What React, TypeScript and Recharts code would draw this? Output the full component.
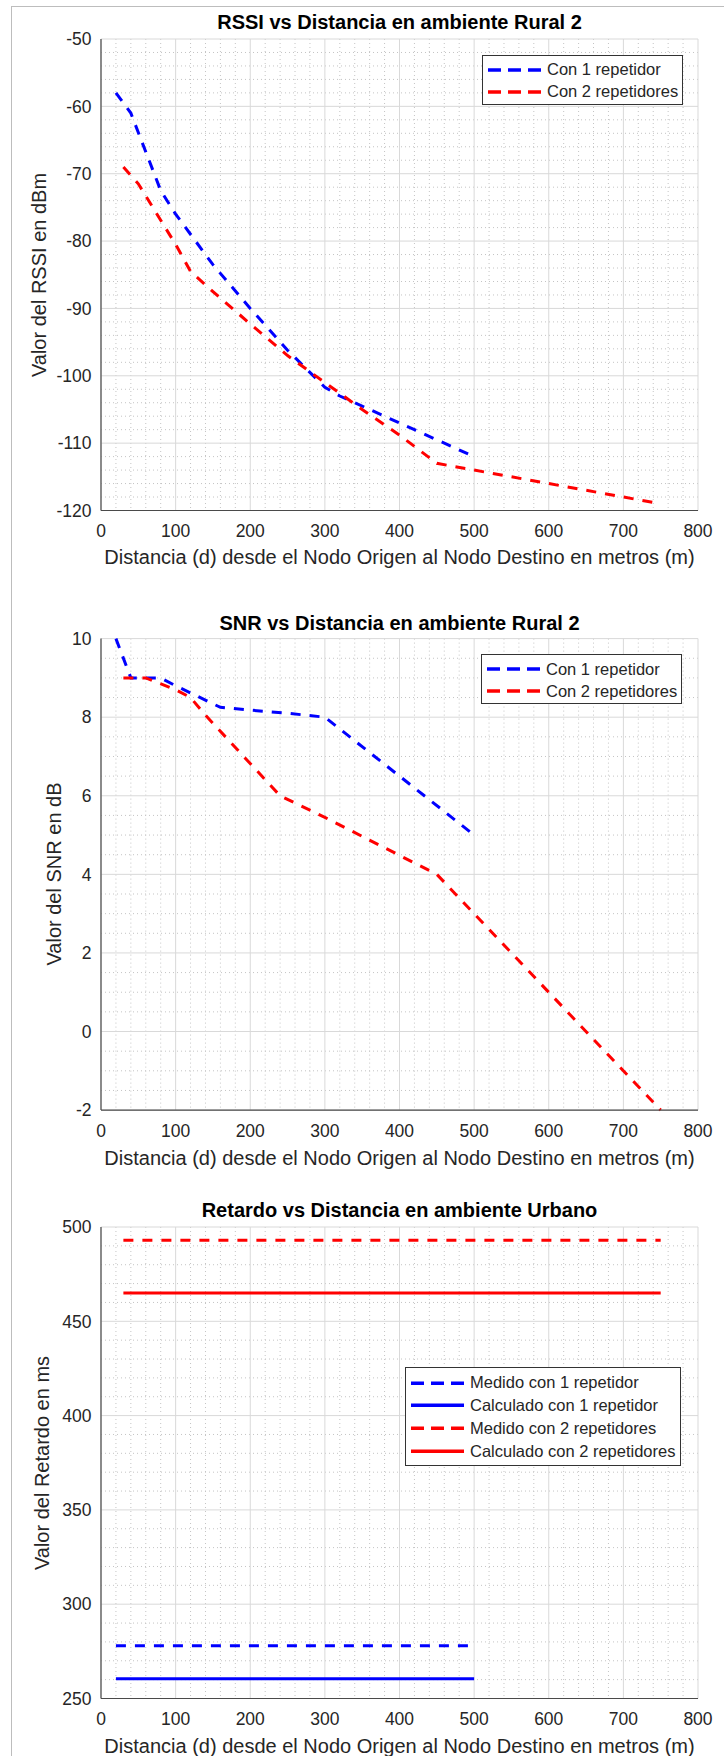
import React from "react";
import { LineChart, Line, XAxis, YAxis, CartesianGrid } from "recharts";

// distances in metres
const xTicks = [0, 100, 200, 300, 400, 500, 600, 700, 800];
const xMinor = [20, 40, 60, 80, 120, 140, 160, 180, 220, 240, 260, 280, 320, 340, 360, 380, 420, 440, 460, 480, 520, 540, 560, 580, 620, 640, 660, 680, 720, 740, 760, 780];

// RSSI (dBm)
const rssiTicks = [-120, -110, -100, -90, -80, -70, -60, -50];
const rssiMinor = [-118, -116, -114, -112, -108, -106, -104, -102, -98, -96, -94, -92, -88, -86, -84, -82, -78, -76, -74, -72, -68, -66, -64, -62, -58, -56, -54, -52];
const rssi1Dist = [20, 40, 80, 100, 150, 200, 250, 300, 320, 400, 500];
const rssi1Val = [-58, -61, -72.5, -76, -83.5, -90, -96.2, -101.7, -103, -107, -112];
const rssi2Dist = [30, 50, 100, 120, 150, 200, 250, 300, 350, 400, 450, 500, 600, 750];
const rssi2Val = [-69, -71.5, -80.5, -84.5, -87.5, -92.3, -97, -101, -105, -108.8, -113, -114, -116, -119];

// SNR (dB)
const snrTicks = [-2, 0, 2, 4, 6, 8, 10];
const snrMinor = [-1.5, -1, -0.5, 0.5, 1, 1.5, 2.5, 3, 3.5, 4.5, 5, 5.5, 6.5, 7, 7.5, 8.5, 9, 9.5];
const snr1Dist = [20, 40, 80, 100, 160, 200, 250, 300, 400, 500];
const snr1Val = [10, 9, 9, 8.8, 8.25, 8.18, 8.1, 8, 6.5, 5];
const snr2Dist = [30, 60, 100, 120, 140, 240, 300, 450, 500, 600, 750];
const snr2Val = [9, 9, 8.7, 8.5, 8.05, 6, 5.45, 4, 3, 1, -2];

// Retardo (ms)
const delayTicks = [250, 300, 350, 400, 450, 500];
const delayMinor = [260, 270, 280, 290, 310, 320, 330, 340, 360, 370, 380, 390, 410, 420, 430, 440, 460, 470, 480, 490];
const delay1Dist = [20, 500];
const medido1Val = [278, 278];
const calc1Val = [260.5, 260.5];
const delay2Dist = [30, 750];
const medido2Val = [493, 493];
const calc2Val = [465, 465];

const pts = (ds: number[], vs: number[]) => ds.map((d, i) => ({ d, v: vs[i] }));

const W = 724;
const PLOT_LEFT = 101;
const PLOT_RIGHT = 698;
const PLOT_H = 471.5;
const AXIS = "#4a4a4a";
const TXT = "#262626";
const FONT = "'Liberation Sans', Arial, Helvetica, sans-serif";
const BLUE = "#0000ff";
const RED = "#ff0000";
const DASH = "10 9";

type Series = { data: { d: number; v: number }[]; color: string; dashed: boolean; name: string };

function LegendBox({ items, left, top, width, rowH, padTop }: any) {
  return (
    <div
      style={{
        position: "absolute",
        left,
        top,
        width,
        height: padTop * 2 + rowH * items.length - 4,
        background: "#fff",
        border: "1px solid #333",
        boxSizing: "border-box",
        fontFamily: FONT,
        fontSize: 16.5,
        color: TXT,
      }}
    >
      {items.map((s: Series, i: number) => (
        <div
          key={s.name}
          style={{
            position: "absolute",
            left: 0,
            top: padTop + i * rowH - rowH / 2 + 9,
            height: rowH,
            display: "flex",
            alignItems: "center",
            whiteSpace: "nowrap",
          }}
        >
          <svg width={64} height={rowH} style={{ flex: "none" }}>
            <line
              x1={5}
              x2={58}
              y1={rowH / 2}
              y2={rowH / 2}
              stroke={s.color}
              strokeWidth={3.5}
              strokeDasharray={s.dashed ? "13 7" : undefined}
            />
          </svg>
          <span>{s.name}</span>
        </div>
      ))}
    </div>
  );
}

function Panel(props: any) {
  const { top, height, plotTop, yDomain, yTicks, yMinor, series, title, titleY, xLabelY, yLabel, yLabelX, legend } = props;
  const xh = height - plotTop - PLOT_H;
  const plotMid = (PLOT_LEFT + PLOT_RIGHT) / 2;
  return (
    <div style={{ position: "absolute", left: 0, top, width: W, height }}>
      <LineChart
        width={W}
        height={height}
        margin={{ top: plotTop, right: W - PLOT_RIGHT, bottom: 0, left: 0 }}
      >
        <CartesianGrid verticalValues={xMinor} horizontalValues={yMinor} stroke="#c4c4c4" strokeDasharray="1 3" />
        <CartesianGrid stroke="#d9d9d9" />
        <XAxis
          dataKey="d"
          type="number"
          domain={[0, 800]}
          ticks={xTicks}
          interval={0}
          height={xh}
          tickLine={false}
          axisLine={{ stroke: AXIS, strokeWidth: 1.2 }}
          tickSize={6}
          tickMargin={8}
          tick={{ fill: TXT, fontSize: 17.5, fontFamily: FONT }}
        />
        <XAxis xAxisId="bin" type="number" domain={[0, 800]} ticks={xTicks} interval={0} orientation="bottom" mirror height={0} tick={false} axisLine={false} tickLine={{ stroke: AXIS }} tickSize={5} />
        <XAxis xAxisId="tin" type="number" domain={[0, 800]} ticks={xTicks} interval={0} orientation="top" mirror height={0} tick={false} axisLine={{ stroke: AXIS, strokeWidth: 1.2 }} tickLine={{ stroke: AXIS }} tickSize={5} />
        <YAxis
          type="number"
          domain={yDomain}
          ticks={yTicks}
          interval={0}
          width={PLOT_LEFT}
          tickLine={false}
          axisLine={{ stroke: AXIS, strokeWidth: 1.2 }}
          tickSize={6}
          tickMargin={3.5}
          tick={{ fill: TXT, fontSize: 17.5, fontFamily: FONT }}
        />
        <YAxis yAxisId="lin" type="number" domain={yDomain} ticks={yTicks} interval={0} orientation="left" mirror width={0} tick={false} axisLine={false} tickLine={{ stroke: AXIS }} tickSize={5} />
        <YAxis yAxisId="rin" type="number" domain={yDomain} ticks={yTicks} interval={0} orientation="right" mirror width={0} tick={false} axisLine={{ stroke: AXIS, strokeWidth: 1.2 }} tickLine={{ stroke: AXIS }} tickSize={5} />
        {series.map((s: Series) => (
          <Line
            key={s.name}
            data={s.data}
            dataKey="v"
            name={s.name}
            type="linear"
            stroke={s.color}
            strokeWidth={3}
            strokeDasharray={s.dashed ? DASH : undefined}
            dot={false}
            activeDot={false}
            isAnimationActive={false}
          />
        ))}
      </LineChart>
      <div
        style={{
          position: "absolute",
          left: PLOT_LEFT - 100,
          width: PLOT_RIGHT - PLOT_LEFT + 200,
          top: titleY - top,
          transform: "translateY(-50%)",
          textAlign: "center",
          fontFamily: FONT,
          fontWeight: "bold",
          fontSize: 20,
          lineHeight: 1,
          color: "#000",
          whiteSpace: "nowrap",
        }}
      >
        {title}
      </div>
      <div
        style={{
          position: "absolute",
          left: plotMid - 350,
          width: 700,
          top: xLabelY - top,
          transform: "translateY(-50%)",
          textAlign: "center",
          fontFamily: FONT,
          fontSize: 20,
          lineHeight: 1,
          color: TXT,
          whiteSpace: "nowrap",
        }}
      >
        Distancia (d) desde el Nodo Origen al Nodo Destino en metros (m)
      </div>
      <div
        style={{
          position: "absolute",
          left: yLabelX,
          top: plotTop + PLOT_H / 2,
          transform: "translate(-50%, -50%) rotate(-90deg)",
          fontFamily: FONT,
          fontSize: 20,
          lineHeight: 1,
          color: TXT,
          whiteSpace: "nowrap",
        }}
      >
        {yLabel}
      </div>
      <LegendBox {...legend} top={legend.top - top} items={series.filter((s: Series) => legend.names.includes(s.name))} />
    </div>
  );
}

export default function App() {
  const rssiSeries: Series[] = [
    { data: pts(rssi1Dist, rssi1Val), color: BLUE, dashed: true, name: "Con 1 repetidor" },
    { data: pts(rssi2Dist, rssi2Val), color: RED, dashed: true, name: "Con 2 repetidores" },
  ];
  const snrSeries: Series[] = [
    { data: pts(snr1Dist, snr1Val), color: BLUE, dashed: true, name: "Con 1 repetidor" },
    { data: pts(snr2Dist, snr2Val), color: RED, dashed: true, name: "Con 2 repetidores" },
  ];
  const delaySeries: Series[] = [
    { data: pts(delay1Dist, medido1Val), color: BLUE, dashed: true, name: "Medido con 1 repetidor" },
    { data: pts(delay1Dist, calc1Val), color: BLUE, dashed: false, name: "Calculado con 1 repetidor" },
    { data: pts(delay2Dist, medido2Val), color: RED, dashed: true, name: "Medido con 2 repetidores" },
    { data: pts(delay2Dist, calc2Val), color: RED, dashed: false, name: "Calculado con 2 repetidores" },
  ];

  return (
    <div style={{ position: "absolute", left: 0, top: 0, width: W, height: 1756, background: "#fff", overflow: "hidden" }}>
      <div style={{ position: "absolute", left: 11, top: 6, width: 720, height: 1760, borderLeft: "1px solid #bdbdbd", borderTop: "1px solid #bdbdbd" }} />
      <Panel
        top={0}
        height={590}
        plotTop={39}
        yDomain={[-120, -50]}
        yTicks={rssiTicks}
        yMinor={rssiMinor}
        series={rssiSeries}
        title="RSSI vs Distancia en ambiente Rural 2"
        titleY={22}
        xLabelY={557}
        yLabel="Valor del RSSI en dBm"
        yLabelX={39}
        legend={{ left: 482, top: 54.5, width: 201, rowH: 22, padTop: 5, names: ["Con 1 repetidor", "Con 2 repetidores"] }}
      />
      <Panel
        top={590}
        height={590}
        plotTop={48.6}
        yDomain={[-2, 10]}
        yTicks={snrTicks}
        yMinor={snrMinor}
        series={snrSeries}
        title="SNR vs Distancia en ambiente Rural 2"
        titleY={623}
        xLabelY={1158}
        yLabel="Valor del SNR en dB"
        yLabelX={54}
        legend={{ left: 481, top: 654, width: 201, rowH: 22, padTop: 5, names: ["Con 1 repetidor", "Con 2 repetidores"] }}
      />
      <Panel
        top={1180}
        height={576}
        plotTop={47}
        yDomain={[250, 500]}
        yTicks={delayTicks}
        yMinor={delayMinor}
        series={delaySeries}
        title="Retardo vs Distancia en ambiente Urbano"
        titleY={1210}
        xLabelY={1746}
        yLabel="Valor del Retardo en ms"
        yLabelX={41.5}
        legend={{
          left: 405,
          top: 1367,
          width: 276,
          rowH: 22.7,
          padTop: 6,
          names: ["Medido con 1 repetidor", "Calculado con 1 repetidor", "Medido con 2 repetidores", "Calculado con 2 repetidores"],
        }}
      />
    </div>
  );
}
